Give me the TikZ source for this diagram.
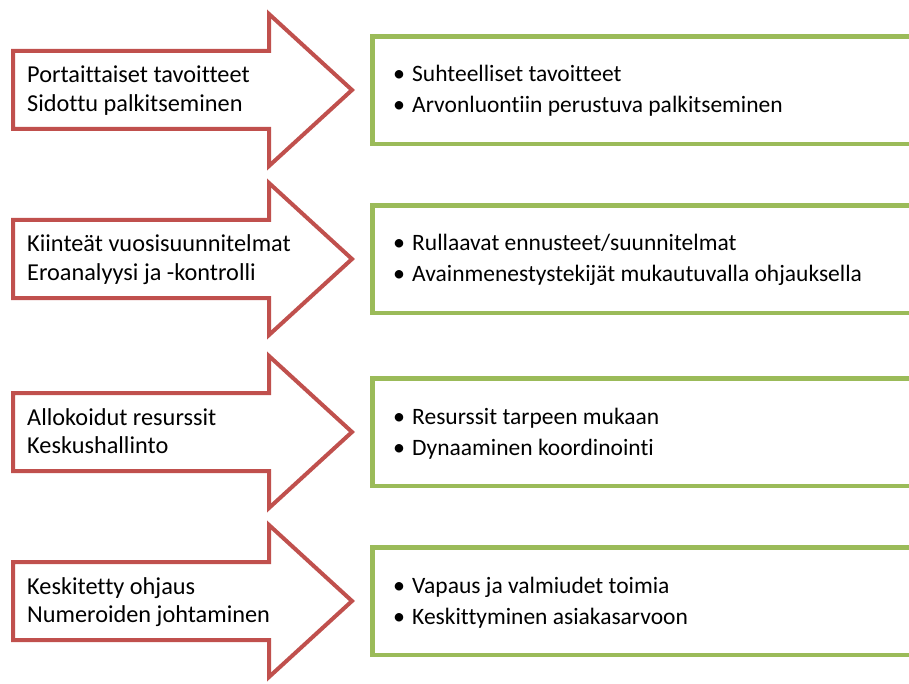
\documentclass[tikz,border=0pt]{standalone}
\usepackage{fontspec}
\setmainfont{Carlito}[Ligatures=CommonOff]
\definecolor{arrowred}{HTML}{C0504D}
\definecolor{boxgreen}{HTML}{9BBB59}
\begin{document}
\begin{tikzpicture}[x=1pt,y=-1pt,
  shiftarrow/.style={draw=arrowred, line width=4pt, fill=white, line join=miter},
  goalbox/.style={draw=boxgreen, line width=4.5pt, fill=white},
  bodytext/.style={anchor=base west, inner sep=0pt,
    font=\fontsize{23.5}{28.5}\selectfont},
  arrowtext/.style={bodytext, font=\fontsize{24.3}{28.5}\selectfont},
  bulletmark/.style={anchor=base, inner sep=0pt, font=\fontsize{24}{28.5}\selectfont}]
\useasboundingbox (0,0) rectangle (909,684);
\clip (0,0) rectangle (909,684);
\foreach \i/\c/\la/\lb/\ra/\rb in {
  1/90/Portaittaiset tavoitteet/Sidottu palkitseminen/Suhteelliset tavoitteet/Arvonluontiin perustuva palkitseminen,
  2/259/Kiinteät vuosisuunnitelmat/Eroanalyysi ja -kontrolli/Rullaavat ennusteet\slash suunnitelmat/Avainmenestystekijät mukautuvalla ohjauksella,
  3/432/Allokoidut resurssit/Keskushallinto/Resurssit tarpeen mukaan/Dynaaminen koordinointi,
  4/601/Keskitetty ohjaus/Numeroiden johtaminen/Vapaus ja valmiudet toimia/Keskittyminen asiakasarvoon}{
  % block arrow: old practice
  \draw[shiftarrow] (13,\c-39) -- (269,\c-39) -- (269,\c-76) -- (352,\c)
    -- (269,\c+76) -- (269,\c+39) -- (13,\c+39) -- cycle;
  \node[arrowtext] (oldA\i) at (27,\c-7) {\la};
  \node[arrowtext] (oldB\i) at (27,\c+21.5) {\lb};
  % box: new practice
  \draw[goalbox] (372.5,\c-53.5) rectangle (930,\c+54);
  \node[bulletmark] (bulA\i) at (399,\c-8) {\textbullet};
  \node[bodytext] (newA\i) at (412,\c-8) {\ra};
  \node[bulletmark] (bulB\i) at (399,\c+23) {\textbullet};
  \node[bodytext] (newB\i) at (412,\c+23) {\rb};
}
\end{tikzpicture}
\end{document}
